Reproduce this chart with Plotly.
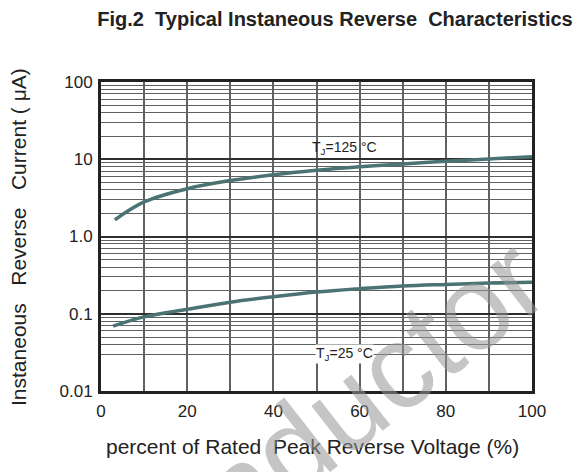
import math
import plotly.graph_objects as go

# Data
x_125 = [3.2, 10, 20, 30, 40, 50, 60, 70, 80, 90, 100]
y_125 = [1.64, 2.8, 4.15, 5.3, 6.3, 7.2, 8.0, 8.7, 9.4, 10.1, 10.8]

x_25 = [2.8, 10, 20, 30, 40, 50, 60, 70, 80, 90, 100]
y_25 = [0.069, 0.091, 0.114, 0.141, 0.166, 0.191, 0.211, 0.229, 0.240, 0.25, 0.255]

x_ticks = [0, 20, 40, 60, 80, 100]
x_minor = [10, 30, 50, 70, 90]
y_ticks = [0.01, 0.1, 1, 10, 100]
y_ticktext = ["0.01", "0.1", "1.0", "10", "100"]
y_minor = [m * 10 ** e for e in (-2, -1, 0, 1) for m in range(2, 10) if not (e == -2 and m == 2)]
faint_level = 0.02

curve_color = "#4b7373"
FONT = "Liberation Sans, Arial, sans-serif"
NB = "\u00a0"

# page body has an 8px margin; figure is sized to fill the remaining window
W, H, OFF = 574, 464, 8
PL, PR, PT, PB = 101, 532, 82, 391  # plot area in window pixels
pw, ph = PR - PL, PB - PT


def px_x(x):
    return (x - PL) / pw


def px_y(y):
    return (PB - y) / ph


fig = go.Figure()
fig.add_trace(go.Scatter(x=x_125, y=y_125, mode="lines", line=dict(color=curve_color, width=3.5, shape="spline"), showlegend=False))
fig.add_trace(go.Scatter(x=x_25, y=y_25, mode="lines", line=dict(color=curve_color, width=3.5, shape="spline"), showlegend=False))

fig.update_layout(
    width=W, height=H,
    margin=dict(l=PL - OFF, r=W + OFF - PR, t=PT - OFF, b=H + OFF - PB, autoexpand=False),
    paper_bgcolor="white", plot_bgcolor="white",
    font=dict(family=FONT, color="#222", size=17),
    title=dict(text="<b>Fig.2" + NB * 2 + "Typical Instaneous Reverse" + NB * 2 + "Characteristics</b>",
               x=(335 - OFF) / W, xanchor="center", y=1 - (19 - OFF) / H, yanchor="middle",
               font=dict(size=20, family=FONT, color="#222")),
    xaxis=dict(range=[0, 100], tickvals=x_ticks, ticks="", showgrid=True, automargin=False,
               gridcolor="#5e6262", gridwidth=1.5,
               minor=dict(tickvals=x_minor, showgrid=True, gridcolor="#5e6262", gridwidth=1.5),
               showline=True, linecolor="#222", linewidth=3, mirror=True,
               zeroline=False, ticklabelstandoff=3,
               tickfont=dict(size=17)),
    yaxis=dict(type="log", range=[-2, 2], tickvals=y_ticks, ticktext=y_ticktext, ticks="", automargin=False,
               showgrid=True, gridcolor="#2e2e2e", gridwidth=2.2,
               minor=dict(tickvals=y_minor, showgrid=True, gridcolor="#5e6262", gridwidth=1.3),
               showline=True, linecolor="#222", linewidth=3, mirror=True,
               zeroline=False, ticklabelstandoff=2,
               tickfont=dict(size=17)),
)

# faint gridline at 0.02
fig.add_shape(type="line", xref="paper", x0=0, x1=1, yref="y",
              y0=math.log10(faint_level), y1=math.log10(faint_level),
              line=dict(color="#9a9a9a", width=1, dash="dot"), layer="below")

# axis titles
fig.add_annotation(xref="paper", yref="paper", x=px_x(312), y=px_y(446),
                   text="percent of Rated" + NB * 2 + "Peak Reverse Voltage (%)", showarrow=False,
                   font=dict(size=21, color="#222"), xanchor="center", yanchor="middle")
fig.add_annotation(xref="paper", yref="paper", x=px_x(19), y=px_y(237),
                   text="Instaneous" + NB * 3 + "Reverse" + NB * 3 + "Current ( μA)", showarrow=False,
                   textangle=-90, font=dict(size=21, color="#222"), xanchor="center", yanchor="middle")

fig.add_annotation(x=56.5, y=1.148, text="T<sub>J</sub>=125 °C", showarrow=False,
                   font=dict(size=14, color="#222"))
fig.add_annotation(x=56.5, y=-1.515, text="T<sub>J</sub>=25 °C", showarrow=False,
                   font=dict(size=14, color="#222"), bgcolor="white", borderpad=0)

# watermark
fig.add_annotation(x=px_x(213), y=px_y(510), xref="paper", yref="paper",
                   text="Semiconductor", showarrow=False,
                   textangle=-38, font=dict(size=120, color="rgba(150,150,150,0.55)", family=FONT),
                   xanchor="center", yanchor="middle")

fig.write_html("out.html")
